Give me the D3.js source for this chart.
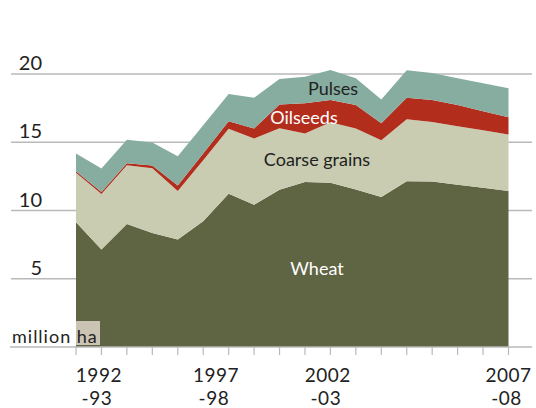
<!DOCTYPE html>
<html>
<head>
<meta charset="utf-8">
<script src="https://cdn.jsdelivr.net/npm/d3@7"></script>
<style>
  body { margin: 0; background: #fff; }
  text { font-family: Lato, "Open Sans", sans-serif; }
</style>
</head>
<body>
<div id="chart"></div>
<script>
// area by crop, million ha, one value per season (18 seasons, ending 2007-08)
var wheat    = [9.14, 7.15, 9.02, 8.36, 7.87, 9.21, 11.23, 10.42, 11.52, 12.08, 12.04, 11.54, 10.98, 12.15, 12.13, 11.89, 11.67, 11.42]
var coarse   = [3.62, 4.06, 4.29, 4.73, 3.56, 4.47, 4.75, 4.85, 4.51, 3.56, 4.43, 4.47, 4.17, 4.54, 4.36, 4.29, 4.21, 4.15]
var oilseeds = [0.12, 0.15, 0.15, 0.20, 0.41, 0.49, 0.55, 0.74, 1.74, 2.21, 1.62, 1.71, 1.25, 1.57, 1.60, 1.54, 1.40, 1.27]
var pulses   = [1.30, 1.72, 1.72, 1.70, 2.13, 2.08, 2.00, 2.25, 1.86, 1.95, 2.20, 1.96, 1.74, 2.01, 1.98, 1.96, 2.04, 2.11]

var keys = ['wheat', 'coarse', 'oilseeds', 'pulses']
var seriesNames = ['Wheat', 'Coarse grains', 'Oilseeds', 'Pulses']
var yTicks = [5, 10, 15, 20]
var xLabelTop = ['1992', '1997', '2002', '2007']
var xLabelBottom = ['-93', '-98', '-03', '-08']
var xLabelIdx = [0.9, 5.5, 9.9, 17]

var W = 536, H = 408
var colors = {wheat: '#5f6443', coarse: '#c9ccb1', oilseeds: '#b22d1b', pulses: '#87ada0'}

var rows = wheat.map(function(d, i) {
  return {i: i, wheat: wheat[i], coarse: coarse[i], oilseeds: oilseeds[i], pulses: pulses[i]}
})

var x = d3.scaleLinear().domain([0, rows.length - 1]).range([76, 508.5])
var y = d3.scaleLinear().domain([0, 20]).range([347, 74])

var svg = d3.select('#chart').append('svg')
  .attr('width', W)
  .attr('height', H)

// gridlines
svg.append('g').selectAll('line')
  .data(yTicks)
  .enter().append('line')
  .attr('x1', 11).attr('x2', 532)
  .attr('y1', d => y(d)).attr('y2', d => y(d))
  .style('stroke', '#b9b9b9')
  .style('stroke-width', '1.5px')

svg.append('g').selectAll('text')
  .data(yTicks)
  .enter().append('text')
  .attr('x', 42)
  .attr('y', d => y(d) - 4)
  .attr('text-anchor', 'end')
  .style('font-size', '20px')
  .style('fill', '#222')
  .text(d => d)

var stack = d3.stack().keys(keys)
var layers = stack(rows)

var area = d3.area()
  .x(d => x(d.data.i))
  .y0(d => y(d[0]))
  .y1(d => y(d[1]))

svg.append('g').selectAll('path')
  .data(layers)
  .enter().append('path')
  .attr('d', area)
  .style('fill', d => colors[d.key])

// baseline + ticks
svg.append('line')
  .attr('x1', 10).attr('x2', 532)
  .attr('y1', y(0)).attr('y2', y(0))
  .style('stroke', '#b9b9b9')
  .style('stroke-width', '1.5px')

svg.append('g').selectAll('line')
  .data(rows)
  .enter().append('line')
  .attr('x1', d => x(d.i)).attr('x2', d => x(d.i))
  .attr('y1', y(0)).attr('y2', y(0) + 8)
  .style('stroke', '#b9b9b9')
  .style('stroke-width', '1.2px')

svg.append('g').selectAll('text')
  .data(xLabelTop)
  .enter().append('text')
  .attr('x', (d, i) => x(xLabelIdx[i]))
  .attr('y', 382)
  .attr('text-anchor', 'middle')
  .style('font-size', '19px')
  .style('letter-spacing', '0.5px')
  .style('fill', '#222')
  .text(d => d)

svg.append('g').selectAll('text')
  .data(xLabelBottom)
  .enter().append('text')
  .attr('x', (d, i) => x(xLabelIdx[i]) - 2)
  .attr('y', 405)
  .attr('text-anchor', 'middle')
  .style('font-size', '19px')
  .style('letter-spacing', '0.5px')
  .style('fill', '#222')
  .text(d => d)

// unit label
svg.append('rect')
  .attr('x', 76).attr('y', 321)
  .attr('width', 24).attr('height', 24)
  .style('fill', '#cbc3b4')
svg.append('text')
  .attr('x', 12).attr('y', 343)
  .style('font-size', '18px')
  .style('letter-spacing', '1px')
  .style('fill', '#222')
  .text('million ha')

// series labels
var seriesLabels = [
  {name: seriesNames[0], x: 317, y: 275, fill: '#fff'},
  {name: seriesNames[1], x: 317, y: 166, fill: '#222'},
  {name: seriesNames[2], x: 304, y: 124, fill: '#fff'},
  {name: seriesNames[3], x: 333, y: 95, fill: '#222'}
]
svg.append('g').selectAll('text')
  .data(seriesLabels)
  .enter().append('text')
  .attr('x', d => d.x)
  .attr('y', d => d.y)
  .attr('text-anchor', 'middle')
  .style('font-size', '18px')
  .style('fill', d => d.fill)
  .text(d => d.name)
</script>
</body>
</html>
